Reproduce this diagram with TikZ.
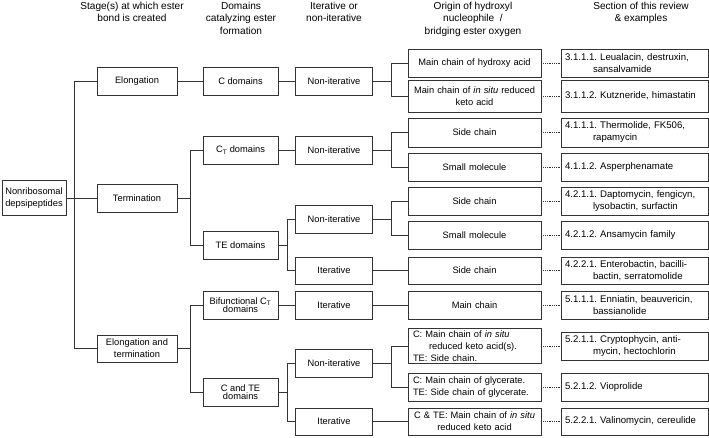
\documentclass[tikz,border=0pt]{standalone}
\usepackage{fontspec}
\setmainfont{Liberation Sans}
\usepackage{tikz}
\usetikzlibrary{positioning}
\frenchspacing

\begin{document}
\begin{tikzpicture}[x=1pt, y=-1pt,
  box/.style={draw=black!80, line width=0.8pt, minimum height=28pt, inner ysep=2pt, align=center, font=\fontsize{9.3}{12}\selectfont},
  lvA/.style={box, minimum width=80pt},
  lvB/.style={box, minimum width=75pt},
  lvC/.style={box, minimum width=77pt},
  org/.style={box, text width=127pt, inner xsep=3pt},
  sec/.style={box, text width=139pt, inner xsep=4pt, align=left, font=\fontsize{9.6}{12}\selectfont},
  tight/.style={font=\fontsize{9.3}{8.5}\selectfont},
  hd/.style={anchor=north, inner sep=0pt, align=center, font=\fontsize{10.1}{12.6}\selectfont},
  edge/.style={draw=black!80, line width=0.8pt},
  dots/.style={draw=black!80, line width=0.8pt, densely dotted}
]
\useasboundingbox (0,0) rectangle (709,437);

\node[hd] (h1) at (132,1.5) {Stage(s) at which ester\\bond is created};
\node[hd] (h2) at (241,1.5) {Domains\\catalyzing ester\\formation};
\node[hd] (h3) at (334,1.5) {Iterative or\\non-iterative};
\node[hd] (h4) at (473,1.5) {Origin of hydroxyl\\nucleophile~~/\\bridging ester oxygen};
\node[hd] (h5) at (641,1.5) {Section of this review\\\& examples};

\node[box, minimum width=64pt, minimum height=35pt, inner xsep=1pt] (root) at (34,198) {Nonribosomal\\depsipeptides};

\node[lvA] (el) at (137,81) {Elongation};
\node[lvA] (term) at (137,198) {Termination};
\node[lvA, minimum height=27pt] (elterm) at (137,348.5) {Elongation and\\termination};

\node[lvB] (cdom) at (240.5,81) {C domains};
\node[lvB] (ctdom) at (240.5,150) {C\textsubscript{T} domains};
\node[lvB] (tedom) at (240.5,245) {TE domains};
\node[lvB, tight] (bifct) at (240.5,305) {Bifunctional C\textsubscript{T}\\domains};
\node[lvB, tight] (ctedom) at (240.5,392) {C and TE\\domains};

\node[lvC] (n1) at (334,81) {Non-iterative};
\node[lvC] (n2) at (334,150) {Non-iterative};
\node[lvC] (n3) at (334,219) {Non-iterative};
\node[lvC, minimum height=27pt] (i1) at (334,270.5) {Iterative};
\node[lvC] (i2) at (334,305) {Iterative};
\node[lvC] (n4) at (334,363) {Non-iterative};
\node[lvC, minimum height=27pt] (i3) at (334,421.5) {Iterative};

\node[org] (o1) at (474.5,63) {Main chain of hydroxy acid};
\node[org, minimum height=32pt] (o2) at (474.5,96) {Main chain of \textit{in situ} reduced\\keto acid};
\node[org, minimum height=29pt] (o3) at (474.5,132.5) {Side chain};
\node[org] (o4) at (474.5,167) {Small molecule};
\node[org] (o5) at (474.5,201) {Side chain};
\node[org] (o6) at (474.5,235) {Small molecule};
\node[org, minimum height=27pt] (o7) at (474.5,270.5) {Side chain};
\node[org] (o8) at (474.5,305) {Main chain};
\node[org, align=left, inner xsep=5pt, text width=123pt] (o9) at (474.5,346) {C: Main chain of \textit{in situ}\\\hspace*{16pt}reduced keto acid(s).\\TE: Side chain.};
\node[org, align=left, inner xsep=5pt, text width=123pt] (o10) at (474.5,387) {C: Main chain of glycerate.\\TE: Side chain of glycerate.};
\node[org, minimum height=27pt] (o11) at (474.5,421.5) {C \& TE: Main chain of \textit{in situ}\\reduced keto acid};

\node[sec] (s1) at (634.5,63) {3.1.1.1. Leualacin, destruxin,\\\hspace*{28pt}sansalvamide};
\node[sec, minimum height=32pt] (s2) at (634.5,96) {3.1.1.2. Kutzneride, himastatin};
\node[sec, minimum height=29pt] (s3) at (634.5,132.5) {4.1.1.1. Thermolide, FK506,\\\hspace*{28pt}rapamycin};
\node[sec] (s4) at (634.5,167) {4.1.1.2. Asperphenamate};
\node[sec] (s5) at (634.5,201) {4.2.1.1. Daptomycin, fengicyn,\\\hspace*{28pt}lysobactin, surfactin};
\node[sec] (s6) at (634.5,235) {4.2.1.2. Ansamycin family};
\node[sec, minimum height=27pt] (s7) at (634.5,270.5) {4.2.2.1. Enterobactin, bacilli-\\\hspace*{28pt}bactin, serratomolide};
\node[sec] (s8) at (634.5,305) {5.1.1.1. Enniatin, beauvericin,\\\hspace*{28pt}bassianolide};
\node[sec] (s9) at (634.5,346) {5.2.1.1. Cryptophycin, anti-\\\hspace*{28pt}mycin, hectochlorin};
\node[sec] (s10) at (634.5,387) {5.2.1.2. Vioprolide};
\node[sec, minimum height=27pt] (s11) at (634.5,421.5) {5.2.2.1. Valinomycin, cereulide};

\draw[edge] (root.east) -- ++(8,0) |- (el.west);
\draw[edge] (root.east) -- (term.west);
\draw[edge] (root.east) -- ++(8,0) |- (elterm.west);

\draw[edge] (el) -- (cdom);
\draw[edge] (term.east) -- ++(13,0) |- (ctdom.west);
\draw[edge] (term.east) -- ++(13,0) |- (tedom.west);
\draw[edge] (elterm.east) -- ++(13,0) |- (bifct.west);
\draw[edge] (elterm.east) -- ++(13,0) |- (ctedom.west);

\draw[edge] (cdom) -- (n1);
\draw[edge] (ctdom) -- (n2);
\draw[edge] (tedom.east) -- ++(9,0) |- (n3.west);
\draw[edge] (tedom.east) -- ++(9,0) |- (i1.west);
\draw[edge] (bifct) -- (i2);
\draw[edge] (ctedom.east) -- ++(9,0) |- (n4.west);
\draw[edge] (ctedom.east) -- ++(9,0) |- (i3.west);

\draw[edge] (n1.east) -- ++(18.5,0) |- (o1.west);
\draw[edge] (n1.east) -- ++(18.5,0) |- (o2.west);
\draw[edge] (n2.east) -- ++(18.5,0) |- (o3.west);
\draw[edge] (n2.east) -- ++(18.5,0) |- (o4.west);
\draw[edge] (n3.east) -- ++(18.5,0) |- (o5.west);
\draw[edge] (n3.east) -- ++(18.5,0) |- (o6.west);
\draw[edge] (i1) -- (o7);
\draw[edge] (i2) -- (o8);
\draw[edge] (n4.east) -- ++(18.5,0) |- (o9.west);
\draw[edge] (n4.east) -- ++(18.5,0) |- (o10.west);
\draw[edge] (i3) -- (o11);

\foreach \k in {1,...,11}
  \draw[dots] (o\k) -- (s\k);
\end{tikzpicture}
\end{document}
